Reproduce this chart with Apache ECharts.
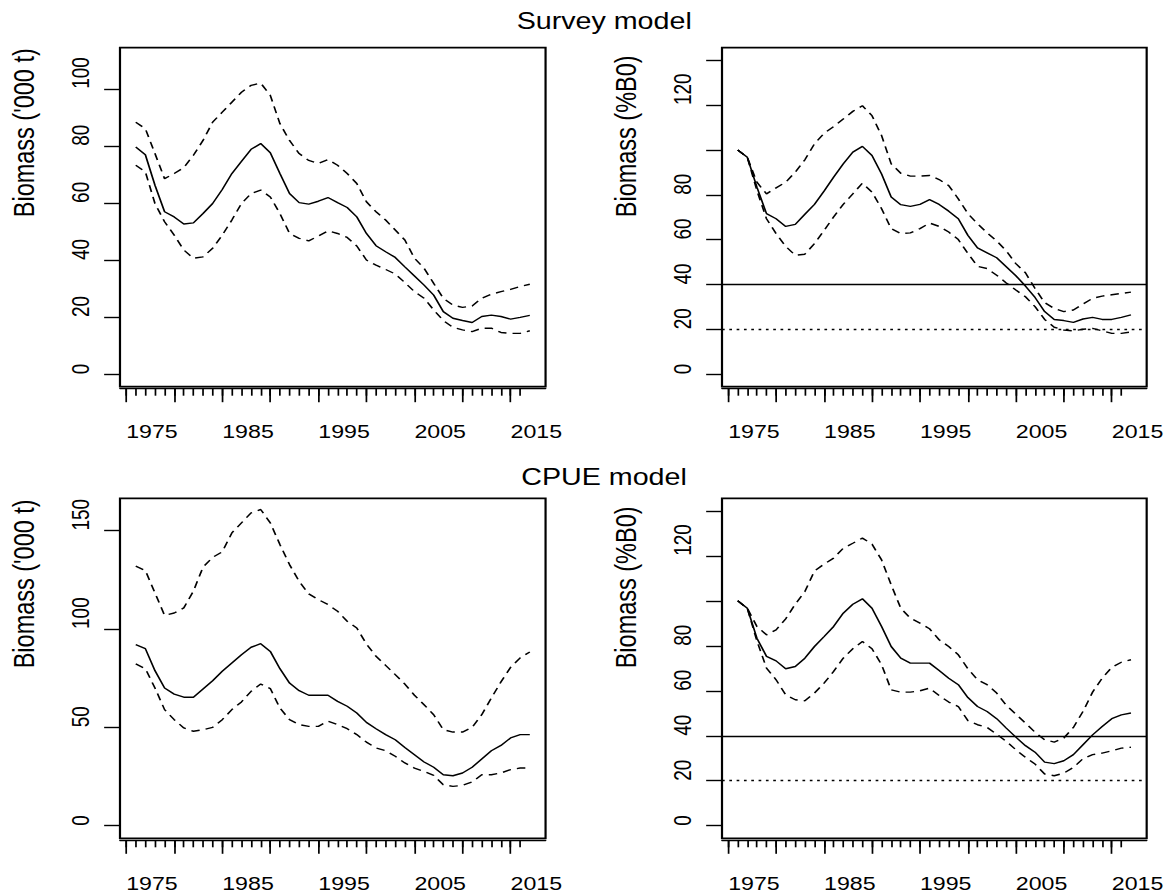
<!DOCTYPE html>
<html>
<head>
<meta charset="utf-8">
<script src="https://cdn.jsdelivr.net/npm/echarts@6/dist/echarts.min.js"></script>
<style>
  html, body { margin: 0; padding: 0; background: #fff; overflow: hidden; }
  /* the reference figure is stretched sideways, so draw narrower and widen it */
  #chart { width: 957px; height: 895px; transform: scaleX(1.2194); transform-origin: 0 0; }
</style>
</head>
<body>
<div id="chart"></div>
<script>
const YEARS = [
  1976, 1977, 1978, 1979, 1980, 1981, 1982, 1983, 1984, 1985,
  1986, 1987, 1988, 1989, 1990, 1991, 1992, 1993, 1994, 1995,
  1996, 1997, 1998, 1999, 2000, 2001, 2002, 2003, 2004, 2005,
  2006, 2007, 2008, 2009, 2010, 2011, 2012, 2013, 2014, 2015,
  2016, 2017,
];

// survey model, biomass ('000 t)
const surveyB = [79.6, 76.9, 66.2, 56.9, 55.1, 52.6, 53.0, 56.3, 59.8, 64.7, 70.3, 74.6, 78.8, 80.8, 77.6, 70.3, 63.3, 60.1, 59.6, 60.6, 61.9, 60.1, 58.4, 55.1, 49.3, 45.0, 42.9, 40.9, 37.6, 34.4, 31.2, 27.7, 21.9, 19.6, 18.8, 18.1, 20.2, 20.7, 20.2, 19.3, 19.9, 20.6];
const surveyBHi = [88.3, 86.0, 77.3, 68.5, 70.3, 72.4, 76.7, 81.9, 88.3, 91.8, 95.3, 98.8, 101.2, 102.0, 97.7, 87.8, 81.9, 77.3, 74.9, 73.8, 75.2, 73.2, 70.3, 66.8, 60.4, 56.9, 54.0, 50.5, 47.0, 40.6, 37.1, 31.8, 26.6, 24.2, 23.4, 23.9, 26.6, 28.0, 28.9, 29.7, 30.7, 31.5];
const surveyBLo = [73.2, 70.9, 59.8, 53.4, 48.7, 43.5, 40.6, 41.1, 44.1, 48.7, 54.0, 59.8, 63.3, 64.5, 62.1, 56.3, 49.3, 47.6, 46.7, 48.4, 50.2, 49.3, 47.9, 44.9, 40.0, 38.2, 36.7, 35.1, 32.1, 28.9, 26.6, 22.5, 18.8, 16.4, 15.5, 14.9, 16.1, 16.1, 14.6, 14.3, 14.3, 15.2];

// survey model, biomass (%B0)
const surveyPct = [100, 96.7, 83.4, 71.6, 69.3, 65.9, 66.8, 71.3, 75.7, 81.6, 87.9, 93.8, 99.0, 101.6, 97.5, 89.3, 79.0, 75.6, 74.8, 75.7, 77.8, 75.7, 72.7, 69.3, 61.9, 56.3, 54.1, 51.9, 47.9, 43.9, 39.3, 34.2, 27.9, 24.4, 23.9, 23.1, 24.6, 25.3, 24.4, 24.4, 25.3, 26.4];
const surveyPctHi = [100, 96.7, 85.6, 80.4, 83.1, 85.6, 90.1, 95.6, 102.7, 107.4, 110.4, 113.8, 117.2, 119.7, 115.3, 106.4, 93.8, 89.6, 88.3, 88.3, 88.6, 86.8, 84.1, 78.2, 71.6, 67.1, 63.0, 59.4, 55.0, 49.3, 45.2, 38.2, 31.9, 29.3, 27.9, 28.6, 31.3, 33.8, 34.8, 35.4, 36.0, 36.6];
const surveyPctLo = [100, 96.7, 81.9, 69.3, 62.7, 57.0, 53.0, 53.5, 58.2, 64.1, 70.1, 75.7, 80.4, 85.2, 81.2, 73.8, 64.9, 62.7, 63.0, 64.9, 67.4, 65.9, 63.4, 60.0, 53.8, 48.1, 47.1, 44.1, 40.7, 37.5, 34.5, 30.1, 24.4, 20.9, 19.7, 19.3, 20.0, 20.4, 19.3, 18.2, 18.2, 18.8];

// CPUE model, biomass ('000 t)
const cpueB = [92.0, 90.0, 78.8, 70.0, 66.9, 65.3, 65.3, 69.5, 73.7, 78.5, 82.7, 86.9, 90.7, 92.5, 88.6, 79.8, 72.5, 68.6, 66.3, 66.3, 66.3, 63.2, 60.7, 57.3, 52.5, 49.3, 46.3, 43.7, 39.8, 36.1, 32.4, 29.7, 25.9, 25.4, 26.8, 29.7, 33.9, 38.1, 40.8, 44.6, 46.3, 46.3];
const cpueBHi = [131.9, 129.7, 118.3, 106.9, 108.1, 110.7, 119.2, 131.4, 136.4, 139.2, 148.8, 153.9, 159.0, 160.7, 153.9, 142.9, 132.7, 124.2, 117.8, 114.9, 112.4, 109.0, 103.9, 100.5, 92.4, 86.1, 81.5, 76.8, 72.0, 66.3, 61.5, 56.4, 48.8, 47.6, 47.6, 50.0, 56.4, 64.9, 73.1, 80.5, 85.3, 88.3];
const cpueBLo = [82.2, 79.8, 70.0, 59.0, 53.9, 49.7, 48.0, 48.8, 50.0, 53.9, 59.0, 62.9, 68.3, 72.0, 69.7, 59.8, 53.9, 51.4, 50.5, 50.5, 53.1, 51.4, 49.3, 46.3, 42.5, 39.5, 38.1, 35.3, 31.9, 29.3, 27.6, 25.6, 20.8, 20.0, 20.5, 22.2, 25.9, 25.9, 26.8, 28.5, 29.3, 29.3];

// CPUE model, biomass (%B0)
const cpuePct = [100, 96.7, 83.4, 75.3, 73.3, 69.8, 70.8, 74.5, 79.7, 84.1, 88.6, 94.5, 98.5, 100.9, 96.7, 88.6, 79.7, 74.5, 72.3, 72.3, 72.3, 69.0, 65.6, 62.7, 57.0, 53.0, 50.8, 47.6, 43.4, 39.4, 35.6, 32.7, 28.3, 27.6, 28.9, 31.6, 36.0, 40.4, 44.1, 47.6, 49.3, 50.1];
const cpuePctHi = [100, 96.7, 88.6, 84.9, 87.1, 92.0, 98.5, 104.1, 113.3, 116.3, 119.0, 123.4, 125.6, 127.9, 125.2, 118.2, 107.1, 96.7, 92.3, 90.1, 87.6, 82.7, 79.7, 76.0, 69.8, 64.9, 62.7, 59.0, 53.5, 49.6, 45.6, 41.6, 38.2, 37.2, 39.0, 43.7, 50.8, 59.4, 65.6, 70.4, 72.7, 73.8];
const cpuePctLo = [100, 96.7, 82.2, 70.1, 64.9, 58.2, 56.0, 55.6, 59.0, 63.4, 68.6, 74.5, 78.7, 81.9, 78.7, 71.6, 60.4, 59.4, 59.4, 60.0, 61.2, 57.9, 55.0, 53.0, 46.7, 44.9, 43.7, 40.7, 37.5, 33.8, 30.4, 27.4, 23.0, 22.2, 23.4, 25.9, 29.8, 31.6, 32.3, 33.3, 34.5, 34.9];

// axis ticks and labels
const X_MINOR_TICKS = [
  1975, 1976, 1977, 1978, 1979, 1980, 1981, 1982, 1983, 1984,
  1985, 1986, 1987, 1988, 1989, 1990, 1991, 1992, 1993, 1994,
  1995, 1996, 1997, 1998, 1999, 2000, 2001, 2002, 2003, 2004,
  2005, 2006, 2007, 2008, 2009, 2010, 2011, 2012, 2013, 2014,
  2015, 2016,
];
const X_MAJOR_TICKS = [1975, 1980, 1985, 1990, 1995, 2000, 2005, 2010, 2015];
const X_LABELS = [1975, 1985, 1995, 2005, 2015];
const Y_TICKS_SURVEY = [0, 20, 40, 60, 80, 100];
const Y_TICKS_CPUE = [0, 50, 100, 150];
const Y_TICKS_PCT = [0, 20, 40, 60, 80, 100, 120, 140];
const Y_LABELS_PCT = [0, 20, 40, 60, 80, 120];
const PCT_TARGET = 40;
const PCT_SOFT_LIMIT = 20;

const FONT = "'Liberation Sans', Arial, Helvetica, sans-serif";
const X_MIN = 1974.36;
const X_MAX = 2018.64;
const LW = 1.4;
const BOX_LW = 1.8;
const DASH = [7, 5];
const DOT = [2.2, 3.8];

const panels = [
  { grid: { left: 98.4, top: 47.7, width: 349, height: 339 }, yMin: -4.4, yMax: 114.4,
    ticks: Y_TICKS_SURVEY, labels: Y_TICKS_SURVEY, name: "Biomass ('000 t)",
    mid: surveyB, hi: surveyBHi, lo: surveyBLo, refs: false },
  { grid: { left: 592.1, top: 47.7, width: 349, height: 339 }, yMin: -5.6, yMax: 145.6,
    ticks: Y_TICKS_PCT, labels: Y_LABELS_PCT, name: "Biomass (%B0)",
    mid: surveyPct, hi: surveyPctHi, lo: surveyPctLo, refs: true },
  { grid: { left: 98.4, top: 498.3, width: 349, height: 340 }, yMin: -6.4, yMax: 166.4,
    ticks: Y_TICKS_CPUE, labels: Y_TICKS_CPUE, name: "Biomass ('000 t)",
    mid: cpueB, hi: cpueBHi, lo: cpueBLo, refs: false },
  { grid: { left: 592.1, top: 498.3, width: 349, height: 340 }, yMin: -5.6, yMax: 145.6,
    ticks: Y_TICKS_PCT, labels: Y_LABELS_PCT, name: "Biomass (%B0)",
    mid: cpuePct, hi: cpuePctHi, lo: cpuePctLo, refs: true },
];

const tickText = { fontSize: 19, lineHeight: 19, color: "#000", fontFamily: FONT };
const tickLine = { color: "#000", width: LW };
const plain = (v) => String(v);

const grids = [];
const xAxes = [];
const yAxes = [];
const series = [];

panels.forEach((p, i) => {
  grids.push({ ...p.grid, show: true, borderColor: "#000", borderWidth: BOX_LW, backgroundColor: "transparent" });

  // yearly ticks with the axis line
  xAxes.push({
    type: "value", gridIndex: i, min: X_MIN, max: X_MAX, position: "bottom", offset: 2,
    axisLine: { show: true, onZero: false, lineStyle: tickLine },
    axisTick: { show: true, customValues: X_MINOR_TICKS, length: 7, lineStyle: tickLine },
    axisLabel: { show: false },
    splitLine: { show: false },
  });
  // five-year ticks and the labels
  xAxes.push({
    type: "value", gridIndex: i, min: X_MIN, max: X_MAX, position: "bottom", offset: 2,
    axisLine: { show: false, onZero: false },
    axisTick: { show: true, customValues: X_MAJOR_TICKS, length: 13.5, lineStyle: tickLine },
    axisLabel: { show: true, customValues: X_LABELS, formatter: plain, align: "left", margin: 33, ...tickText },
    splitLine: { show: false },
  });

  yAxes.push({
    type: "value", gridIndex: i, min: p.yMin, max: p.yMax,
    name: p.name, nameLocation: "middle", nameRotate: 90, nameGap: 67,
    nameTextStyle: { fontSize: 23.5, lineHeight: 24, color: "#000", fontFamily: FONT, align: "left", verticalAlign: "bottom" },
    axisLine: { show: false },
    axisTick: { show: true, customValues: p.ticks, length: 13, lineStyle: tickLine },
    axisLabel: {
      show: true, customValues: p.labels, formatter: plain, margin: 23,
      rotate: 90, align: "left", verticalAlign: "bottom", ...tickText,
    },
    splitLine: { show: false },
  });

  const xIdx = i * 2;
  const line = (name, values, type) => ({
    name,
    type: "line",
    xAxisIndex: xIdx,
    yAxisIndex: i,
    showSymbol: false,
    symbol: "none",
    silent: true,
    data: YEARS.map((y, k) => [y, values[k]]),
    lineStyle: { color: "#000", width: LW, type },
  });

  const mid = line("Biomass", p.mid, "solid");
  if (p.refs) {
    mid.markLine = {
      symbol: "none",
      silent: true,
      label: { show: false },
      lineStyle: { color: "#000", width: LW },
      data: [
        { yAxis: PCT_TARGET, lineStyle: { type: "solid" } },
        { yAxis: PCT_SOFT_LIMIT, lineStyle: { type: DOT } },
      ],
    };
  }
  series.push(mid);
  series.push(line("Upper", p.hi, DASH));
  series.push(line("Lower", p.lo, DASH));
});

const titleText = { fontSize: 23.5, lineHeight: 24, fontWeight: "normal", color: "#000", fontFamily: FONT };

const chart = echarts.init(document.getElementById("chart"), null, { renderer: "svg" });
chart.setOption({
  backgroundColor: "#fff",
  animation: false,
  title: [
    { text: "Survey model", left: 423.7, top: 9, padding: 0, textStyle: titleText },
    { text: "CPUE model", left: 427.5, top: 465, padding: 0, textStyle: titleText },
  ],
  grid: grids,
  xAxis: xAxes,
  yAxis: yAxes,
  series,
});
</script>
</body>
</html>
